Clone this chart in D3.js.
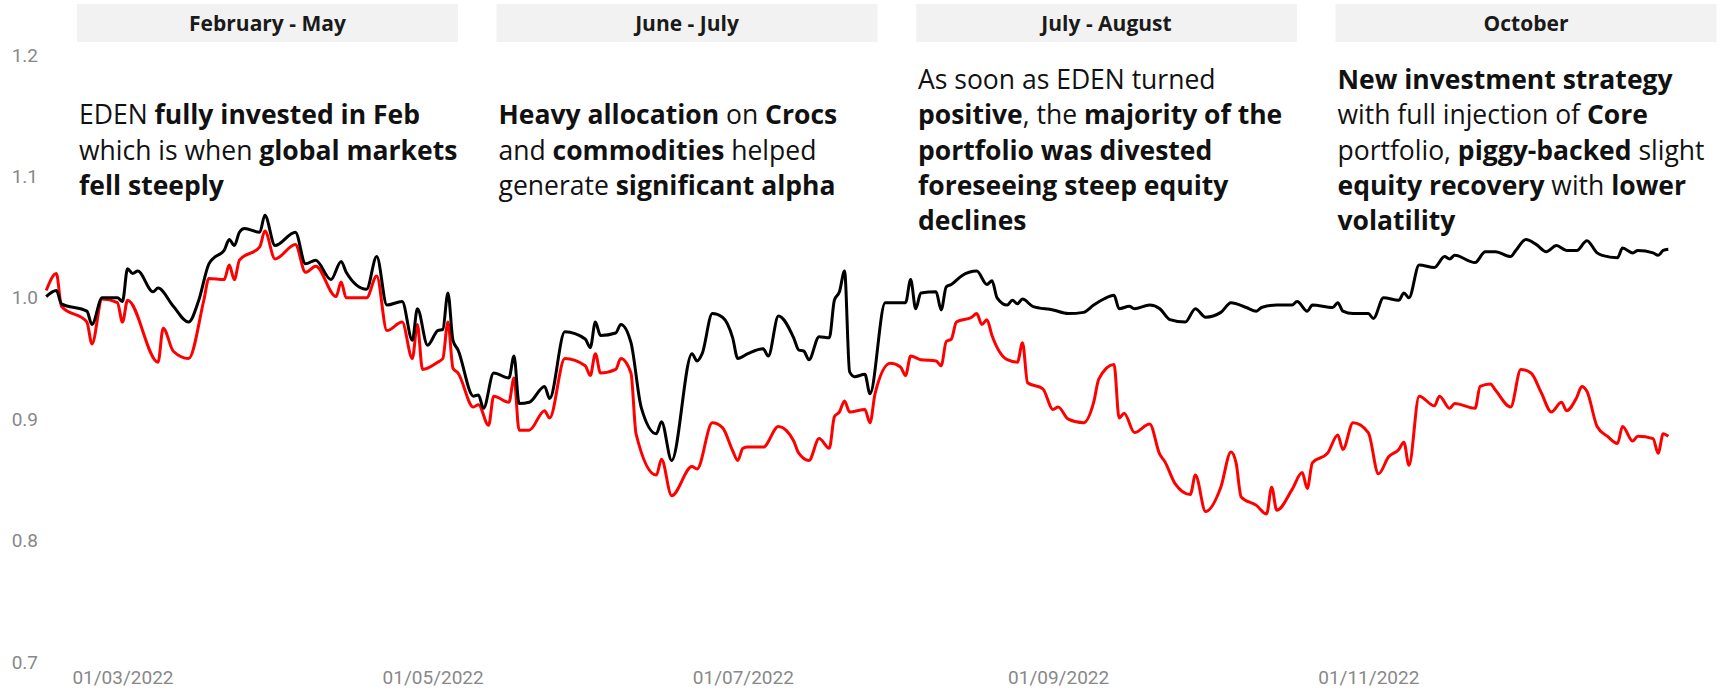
<!DOCTYPE html>
<html><head><meta charset="utf-8">
<script src="https://cdn.jsdelivr.net/npm/d3@7"></script>
<style>
body{margin:0;background:#fff;}
svg{display:block;}
</style></head><body>
<svg id="chart" width="1727" height="690"></svg>
<script>
const blackDates = ["2022-02-14","2022-02-16","2022-02-17","2022-02-22","2022-02-23","2022-02-25","2022-02-28","2022-03-01","2022-03-02","2022-03-03","2022-03-04","2022-03-07","2022-03-08","2022-03-11","2022-03-14","2022-03-16","2022-03-18","2022-03-19","2022-03-21","2022-03-22","2022-03-23","2022-03-24","2022-03-25","2022-03-28","2022-03-29","2022-03-31","2022-04-04","2022-04-06","2022-04-08","2022-04-11","2022-04-13","2022-04-14","2022-04-18","2022-04-20","2022-04-22","2022-04-25","2022-04-27","2022-04-28","2022-04-30","2022-05-02","2022-05-03","2022-05-04","2022-05-05","2022-05-06","2022-05-09","2022-05-10","2022-05-11","2022-05-13","2022-05-16","2022-05-17","2022-05-18","2022-05-20","2022-05-23","2022-05-24","2022-05-27","2022-05-31","2022-06-01","2022-06-02","2022-06-03","2022-06-06","2022-06-07","2022-06-09","2022-06-11","2022-06-14","2022-06-15","2022-06-17","2022-06-21","2022-06-22","2022-06-23","2022-06-25","2022-06-27","2022-06-29","2022-06-30","2022-07-02","2022-07-05","2022-07-06","2022-07-08","2022-07-11","2022-07-12","2022-07-13","2022-07-14","2022-07-16","2022-07-18","2022-07-19","2022-07-20","2022-07-21","2022-07-22","2022-07-23","2022-07-25","2022-07-26","2022-07-29","2022-08-02","2022-08-03","2022-08-04","2022-08-05","2022-08-08","2022-08-09","2022-08-10","2022-08-11","2022-08-13","2022-08-16","2022-08-18","2022-08-19","2022-08-20","2022-08-22","2022-08-23","2022-08-24","2022-08-25","2022-08-27","2022-08-31","2022-09-03","2022-09-06","2022-09-08","2022-09-10","2022-09-12","2022-09-13","2022-09-15","2022-09-16","2022-09-19","2022-09-21","2022-09-23","2022-09-26","2022-09-28","2022-09-30","2022-10-03","2022-10-05","2022-10-08","2022-10-10","2022-10-11","2022-10-14","2022-10-17","2022-10-18","2022-10-20","2022-10-21","2022-10-25","2022-10-26","2022-10-27","2022-10-29","2022-11-01","2022-11-02","2022-11-04","2022-11-07","2022-11-08","2022-11-09","2022-11-11","2022-11-14","2022-11-16","2022-11-17","2022-11-18","2022-11-22","2022-11-24","2022-11-26","2022-11-29","2022-11-30","2022-12-02","2022-12-04","2022-12-06","2022-12-08","2022-12-10","2022-12-12","2022-12-14","2022-12-16","2022-12-17","2022-12-20","2022-12-21","2022-12-23","2022-12-24","2022-12-27","2022-12-28","2022-12-29","2022-12-30"];
const blackValues = [1.001,1.006,0.995,0.989,0.978,1.000,1.000,0.997,1.024,1.020,1.022,1.005,1.008,0.993,0.980,0.998,1.028,1.033,1.039,1.048,1.043,1.054,1.057,1.054,1.068,1.043,1.054,1.028,1.031,1.015,1.030,1.021,1.007,1.034,0.994,0.997,0.965,0.991,0.961,0.973,0.974,1.004,0.965,0.957,0.919,0.920,0.909,0.938,0.934,0.952,0.913,0.914,0.927,0.917,0.972,0.966,0.959,0.980,0.969,0.971,0.978,0.963,0.910,0.888,0.898,0.866,0.954,0.948,0.954,0.987,0.984,0.967,0.950,0.954,0.958,0.952,0.985,0.967,0.957,0.956,0.949,0.968,0.967,0.998,1.005,1.022,0.939,0.935,0.937,0.921,0.996,0.996,1.015,0.991,1.004,1.005,0.990,1.009,1.011,1.018,1.022,1.011,1.014,1.000,0.994,0.998,0.995,0.999,0.993,0.990,0.987,0.988,0.994,0.999,1.002,0.991,0.993,0.991,0.994,0.991,0.982,0.980,0.991,0.984,0.988,0.996,0.992,0.989,0.992,0.994,0.994,0.997,0.989,0.994,0.992,0.996,0.989,0.987,0.987,0.983,1.000,0.998,1.004,1.000,1.027,1.025,1.034,1.032,1.035,1.029,1.038,1.038,1.034,1.039,1.048,1.044,1.038,1.043,1.039,1.039,1.047,1.037,1.035,1.033,1.041,1.037,1.039,1.037,1.035,1.039,1.040];

const redDates = ["2022-02-14","2022-02-16","2022-02-17","2022-02-22","2022-02-23","2022-02-25","2022-02-28","2022-03-01","2022-03-02","2022-03-08","2022-03-09","2022-03-11","2022-03-14","2022-03-17","2022-03-18","2022-03-21","2022-03-22","2022-03-23","2022-03-24","2022-03-28","2022-03-29","2022-03-31","2022-04-04","2022-04-06","2022-04-08","2022-04-12","2022-04-13","2022-04-14","2022-04-18","2022-04-20","2022-04-22","2022-04-25","2022-04-27","2022-04-28","2022-04-29","2022-05-02","2022-05-03","2022-05-04","2022-05-05","2022-05-06","2022-05-09","2022-05-10","2022-05-12","2022-05-13","2022-05-16","2022-05-17","2022-05-18","2022-05-20","2022-05-23","2022-05-24","2022-05-27","2022-05-31","2022-06-01","2022-06-02","2022-06-03","2022-06-06","2022-06-07","2022-06-09","2022-06-10","2022-06-14","2022-06-15","2022-06-17","2022-06-21","2022-06-22","2022-06-25","2022-06-27","2022-06-29","2022-06-30","2022-07-01","2022-07-02","2022-07-05","2022-07-08","2022-07-11","2022-07-12","2022-07-14","2022-07-16","2022-07-18","2022-07-19","2022-07-20","2022-07-21","2022-07-22","2022-07-25","2022-07-26","2022-07-27","2022-07-30","2022-08-01","2022-08-02","2022-08-03","2022-08-05","2022-08-08","2022-08-09","2022-08-10","2022-08-11","2022-08-12","2022-08-15","2022-08-16","2022-08-17","2022-08-18","2022-08-19","2022-08-22","2022-08-24","2022-08-25","2022-08-26","2022-08-29","2022-08-31","2022-09-01","2022-09-03","2022-09-06","2022-09-08","2022-09-09","2022-09-12","2022-09-13","2022-09-14","2022-09-16","2022-09-19","2022-09-21","2022-09-22","2022-09-24","2022-09-27","2022-09-28","2022-09-30","2022-10-03","2022-10-05","2022-10-06","2022-10-07","2022-10-10","2022-10-12","2022-10-13","2022-10-14","2022-10-17","2022-10-19","2022-10-20","2022-10-21","2022-10-24","2022-10-26","2022-10-27","2022-10-29","2022-11-01","2022-11-03","2022-11-05","2022-11-07","2022-11-08","2022-11-09","2022-11-11","2022-11-14","2022-11-15","2022-11-17","2022-11-18","2022-11-22","2022-11-23","2022-11-25","2022-11-26","2022-11-29","2022-12-01","2022-12-03","2022-12-05","2022-12-07","2022-12-09","2022-12-10","2022-12-12","2022-12-13","2022-12-14","2022-12-16","2022-12-18","2022-12-20","2022-12-21","2022-12-23","2022-12-24","2022-12-27","2022-12-28","2022-12-29","2022-12-30"];
const redValues = [1.006,1.020,0.993,0.980,0.962,0.999,0.996,0.980,0.998,0.947,0.975,0.956,0.950,0.998,1.016,1.015,1.027,1.015,1.031,1.042,1.055,1.032,1.044,1.021,1.026,1.001,1.013,1.000,1.000,1.018,0.973,0.980,0.950,0.978,0.941,0.947,0.950,0.980,0.942,0.938,0.910,0.912,0.895,0.919,0.914,0.934,0.891,0.891,0.907,0.901,0.950,0.944,0.936,0.954,0.938,0.941,0.950,0.938,0.888,0.854,0.867,0.837,0.861,0.859,0.897,0.893,0.874,0.866,0.876,0.877,0.877,0.894,0.882,0.872,0.866,0.884,0.876,0.902,0.906,0.915,0.906,0.908,0.897,0.921,0.946,0.943,0.936,0.952,0.949,0.948,0.944,0.964,0.966,0.980,0.984,0.987,0.978,0.982,0.969,0.949,0.947,0.963,0.930,0.925,0.908,0.910,0.900,0.897,0.914,0.933,0.945,0.901,0.905,0.889,0.896,0.871,0.865,0.847,0.838,0.854,0.824,0.844,0.873,0.864,0.836,0.829,0.822,0.844,0.825,0.842,0.856,0.843,0.864,0.872,0.887,0.875,0.897,0.889,0.855,0.869,0.875,0.881,0.862,0.919,0.911,0.919,0.909,0.913,0.909,0.927,0.929,0.924,0.910,0.941,0.938,0.922,0.906,0.914,0.907,0.918,0.927,0.923,0.894,0.886,0.880,0.894,0.882,0.886,0.884,0.872,0.888,0.886];

const yTicks = [0.7, 0.8, 0.9, 1.0, 1.1, 1.2];
const xTickDates = ["2022-03-01","2022-05-01","2022-07-01","2022-09-01","2022-11-01"];
const panelTitles = ["February - May", "June - July", "July - August", "October"];
const panelNotes = [
  [[["EDEN ",0],["fully invested in Feb",1]], [["which is when ",0],["global markets",1]], [["fell steeply",1]]],
  [[["Heavy allocation",1],[" on ",0],["Crocs",1]], [["and ",0],["commodities",1],[" helped",0]], [["generate ",0],["significant alpha",1]]],
  [[["As soon as EDEN turned",0]], [["positive",1],[", the ",0],["majority of the",1]], [["portfolio was divested",1]], [["foreseeing steep equity",1]], [["declines",1]]],
  [[["New investment strategy",1]], [["with full injection of ",0],["Core",1]], [["portfolio, ",0],["piggy-backed",1],[" slight",0]], [["equity recovery",1],[" with ",0],["lower",1]], [["volatility",1]]]
];

const parse = d3.timeParse("%Y-%m-%d");
const svg = d3.select("#chart");

const x = d3.scaleTime()
  .domain([parse("2022-02-14"), parse("2022-12-30")])
  .range([46.2, 1668.3]);
const y = d3.scaleLinear().domain([0.7, 1.2]).range([662, 55]);

// panels
const colX = d3.scaleLinear().domain([0, 1]).range([77, 496.5]);
const colW = 381;
const panels = svg.append("g").selectAll("g").data(panelTitles).join("g")
  .attr("transform", (d, i) => `translate(${colX(i)},0)`);
panels.append("rect").attr("x", 0).attr("y", 4).attr("width", colW).attr("height", 38).attr("fill", "#f2f2f2");
panels.append("text").attr("x", colW / 2).attr("y", 31).attr("text-anchor", "middle")
  .attr("font-family", "'Open Sans', sans-serif").attr("font-weight", 700).attr("font-size", 21)
  .attr("fill", "#1a1a1a").text(d => d);

panels.each(function(d, i) {
  const lines = panelNotes[i];
  const lh = 35.3;
  const y0 = 150 - (lines.length - 1) / 2 * lh + 9.5;
  const t = d3.select(this).append("text")
    .attr("font-family", "'Open Sans', sans-serif").attr("font-size", 26.5).attr("fill", "#111");
  lines.forEach((segs, li) => {
    segs.forEach((s, si) => {
      const ts = t.append("tspan").attr("font-weight", s[1] ? 700 : 400).text(s[0]).style("white-space", "pre");
      if (si === 0) ts.attr("x", 2).attr("y", y0 + li * lh);
    });
  });
  t.attr("xml:space", "preserve");
});

// axes
const yAxis = d3.axisLeft(y).tickValues(yTicks).tickFormat(d3.format(".1f")).tickSize(0).tickPadding(0);
const gy = svg.append("g").attr("transform", "translate(38,0)").call(yAxis);
gy.select(".domain").remove();
gy.selectAll("text").attr("font-family", "Roboto, sans-serif").attr("font-size", 19).attr("fill", "#888");

const xAxis = d3.axisBottom(x).tickValues(xTickDates.map(parse)).tickFormat(d3.timeFormat("%d/%m/%Y")).tickSize(0).tickPadding(0);
const gx = svg.append("g").attr("transform", "translate(0,670.5)").call(xAxis);
gx.select(".domain").remove();
gx.selectAll("text").attr("font-family", "Roboto, sans-serif").attr("font-size", 19).attr("fill", "#888");

// lines
const line = d3.line().x(d => x(d[0])).y(d => y(d[1])).curve(d3.curveMonotoneX);
const redData = redDates.map((d, i) => [parse(d), redValues[i]]);
const blackData = blackDates.map((d, i) => [parse(d), blackValues[i]]);
svg.append("path").datum(redData).attr("d", line).attr("fill", "none").attr("stroke", "#ff0000").attr("stroke-width", 3).attr("stroke-linejoin", "round");
svg.append("path").datum(blackData).attr("d", line).attr("fill", "none").attr("stroke", "#000").attr("stroke-width", 3).attr("stroke-linejoin", "round");
</script>
</body></html>
